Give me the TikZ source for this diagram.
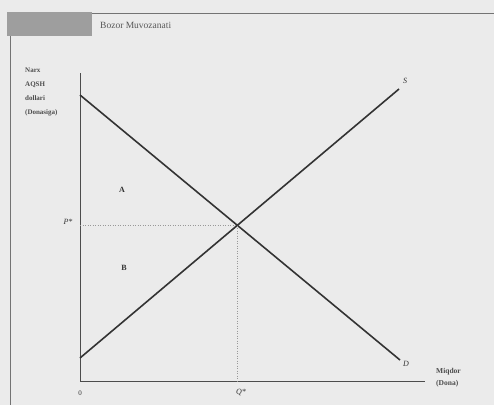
\documentclass[tikz,border=0pt]{standalone}
\usepackage{fontspec}
\setmainfont{Liberation Serif}
\begin{document}
\begin{tikzpicture}[x=1pt,y=-1pt,
  axis/.style={draw=black!70,line width=0.8pt},
  curve/.style={draw=black!80,line width=1.6pt},
  guide/.style={draw=black!40,line width=0.5pt,dotted},
  lbl/.style={text=black!80,font=\fontsize{8}{9}\selectfont\itshape,inner sep=1pt},
  small/.style={text=black!70,font=\fontsize{7}{14}\selectfont\bfseries,inner sep=0pt,align=left}]
\fill[black!8] (0,0) rectangle (494,405);
\useasboundingbox (0,0) rectangle (494,405);
% frame
\fill[black!38] (7,12) rectangle (92,36);
\draw[black!55,line width=0.6pt] (92,13) -- (494,13);
\draw[black!55,line width=0.8pt] (10,36) -- (10,405);
\node[anchor=west,text=black!65,font=\fontsize{9.5}{10}\selectfont,inner sep=0pt] (title) at (100,25) {Bozor Muvozanati};
% axes
\coordinate (O) at (80,381);
\coordinate (ytop) at (80,73);
\coordinate (xend) at (425,381);
\draw[axis] (ytop) -- (O) -- (xend);
% curves
\coordinate (D0) at (80,95);
\coordinate (D1) at (400,360);
\coordinate (S0) at (80,358);
\coordinate (S1) at (399,89);
\draw[curve] (D0) -- (D1);
\draw[curve] (S0) -- (S1);
\coordinate (E) at (237.5,225.5);
\coordinate (Pax) at (80,225.5);
\coordinate (Qax) at (237.5,381);
\draw[guide] (Pax) -- (E);
\draw[guide] (E) -- (Qax);
% labels
\node[lbl] (S) at (405,81) {S};
\node[lbl] (D) at (406,364) {D};
\node[lbl] (P) at (68,222) {P*};
\node[lbl] (Q) at (241,392) {Q*};
\node[lbl,font=\fontsize{7}{8}\selectfont] (zero) at (80,393) {0};
\node[lbl,font=\fontsize{8}{9}\selectfont\bfseries] (A) at (122,190) {A};
\node[lbl,font=\fontsize{8}{9}\selectfont\bfseries] (B) at (124,268) {B};
\node[small,anchor=north west] (ylab) at (25,68) {Narx\\AQSH\\dollari\\(Donasiga)};
\node[small,anchor=north west,font=\fontsize{7.5}{12}\selectfont\bfseries] (xlab) at (436,368) {Miqdor\\(Dona)};
\end{tikzpicture}
\end{document}
